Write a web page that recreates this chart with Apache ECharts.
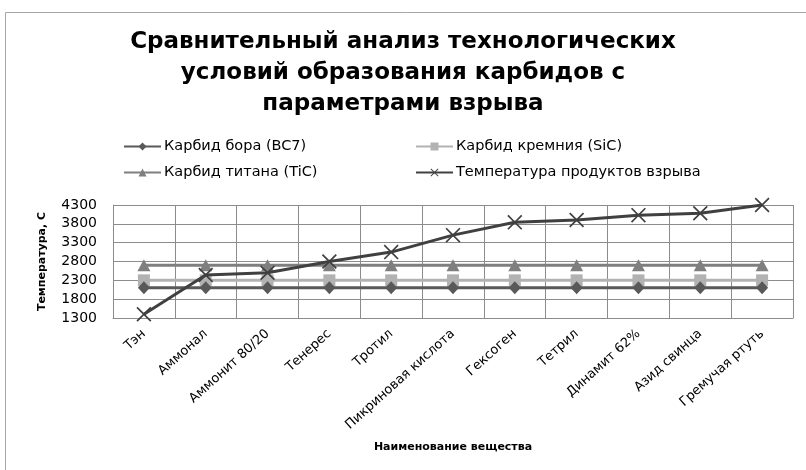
<!DOCTYPE html>
<html><head><meta charset="utf-8">
<script src="https://cdn.jsdelivr.net/npm/echarts@6/dist/echarts.min.js"></script>
<style>html,body{margin:0;padding:0;background:#fff}#c{width:806px;height:470px}</style>
</head><body><div id="c"></div>
<script>
const categories = ['Тэн','Аммонал','Аммонит 80/20','Тенерес','Тротил','Пикриновая кислота','Гексоген','Тетрил','Динамит 62%','Азид свинца','Гремучая ртуть'];
const boronCarbide = [2100,2100,2100,2100,2100,2100,2100,2100,2100,2100,2100];
const siliconCarbide = [2300,2300,2300,2300,2300,2300,2300,2300,2300,2300,2300];
const titaniumCarbide = [2700,2700,2700,2700,2700,2700,2700,2700,2700,2700,2700];
const explosionTemp = [1400,2440,2500,2800,3050,3500,3840,3900,4030,4080,4300];
const yTicks = [1300,1800,2300,2800,3300,3800,4300];
const seriesNames = ['Карбид бора (BC7)','Карбид кремния (SiC)','Карбид титана (TiC)','Температура продуктов взрыва'];

const FONT = 'DejaVu Sans';
const xSym = 'path://M0,0.8 L0.8,0 L5,4.2 L9.2,0 L10,0.8 L5.8,5 L10,9.2 L9.2,10 L5,5.8 L0.8,10 L0,9.2 L4.2,5 Z';
const legendBase = {
  orient: 'horizontal', itemWidth: 37, itemHeight: 10, itemGap: 5, padding: 0,
  textStyle: {fontFamily: FONT, fontSize: 14.5, color: '#000', padding: [0,0,0,-2]}
};
const chart = echarts.init(document.getElementById('c'));
chart.setOption({
  backgroundColor: '#fff',
  animation: false,
  textStyle: {fontFamily: FONT},
  graphic: [{type:'rect', shape:{x:5.5,y:12.5,width:820,height:480}, style:{fill:'none', stroke:'#a6a6a6', lineWidth:1}, z:-1}],
  title: {
    text: 'Сравнительный анализ технологических\nусловий образования карбидов с\nпараметрами взрыва',
    left: 'center', top: 22,
    textStyle: {fontFamily: FONT, fontSize: 23, fontWeight: 'bold', color: '#000', lineHeight: 31}
  },
  legend: [
    Object.assign({left: 123, top: 139, data: [seriesNames[0]]}, legendBase),
    Object.assign({left: 415, top: 139, data: [seriesNames[1]]}, legendBase),
    Object.assign({left: 123, top: 165, data: [seriesNames[2]]}, legendBase),
    Object.assign({left: 415, top: 165, data: [seriesNames[3]]}, legendBase)
  ],
  grid: {left: 113, right: 13, top: 205, bottom: 152},
  xAxis: {
    type: 'category', data: categories, boundaryGap: true,
    axisLine: {lineStyle: {color: '#8c8c8c'}},
    axisTick: {show: false},
    splitLine: {show: true, lineStyle: {color: '#8c8c8c', width: 1}},
    axisLabel: {rotate: 42, interval: 0, fontSize: 13, color: '#000', margin: 14, fontFamily: FONT},
    name: 'Наименование вещества', nameLocation: 'middle', nameGap: 124,
    nameTextStyle: {fontFamily: FONT, fontSize: 11, fontWeight: 'bold', color: '#000'}
  },
  yAxis: {
    type: 'value', min: 1300, max: 4300, interval: 500,
    axisLine: {show: true, lineStyle: {color: '#8c8c8c'}},
    axisTick: {show: false},
    splitLine: {lineStyle: {color: '#8c8c8c', width: 1}},
    axisLabel: {fontSize: 14, color: '#000', margin: 16, fontFamily: FONT,
      formatter: v => yTicks.includes(v) ? String(v) : ''},
    name: 'Температура, С', nameLocation: 'middle', nameGap: 65, nameRotate: 90,
    nameTextStyle: {fontFamily: FONT, fontSize: 11, fontWeight: 'bold', color: '#000'}
  },
  series: [
    {name:seriesNames[2], type:'line', data: titaniumCarbide, symbol:'triangle', symbolSize:[13,12],
     itemStyle:{color:'#7f7f7f'}, lineStyle:{color:'#7f7f7f', width:3}, z:2},
    {name:seriesNames[1], type:'line', data: siliconCarbide, symbol:'rect', symbolSize:[12,12],
     itemStyle:{color:'#b2b2b2'}, lineStyle:{color:'#b2b2b2', width:3}, z:3},
    {name:seriesNames[0], type:'line', data: boronCarbide, symbol:'diamond', symbolSize:[12,13],
     itemStyle:{color:'#595959'}, lineStyle:{color:'#595959', width:3}, z:4},
    {name:seriesNames[3], type:'line', data: explosionTemp, symbol: xSym, symbolSize:[15,15],
     itemStyle:{color:'#404040'}, lineStyle:{color:'#404040', width:3}, z:5}
  ]
});
</script></body></html>
